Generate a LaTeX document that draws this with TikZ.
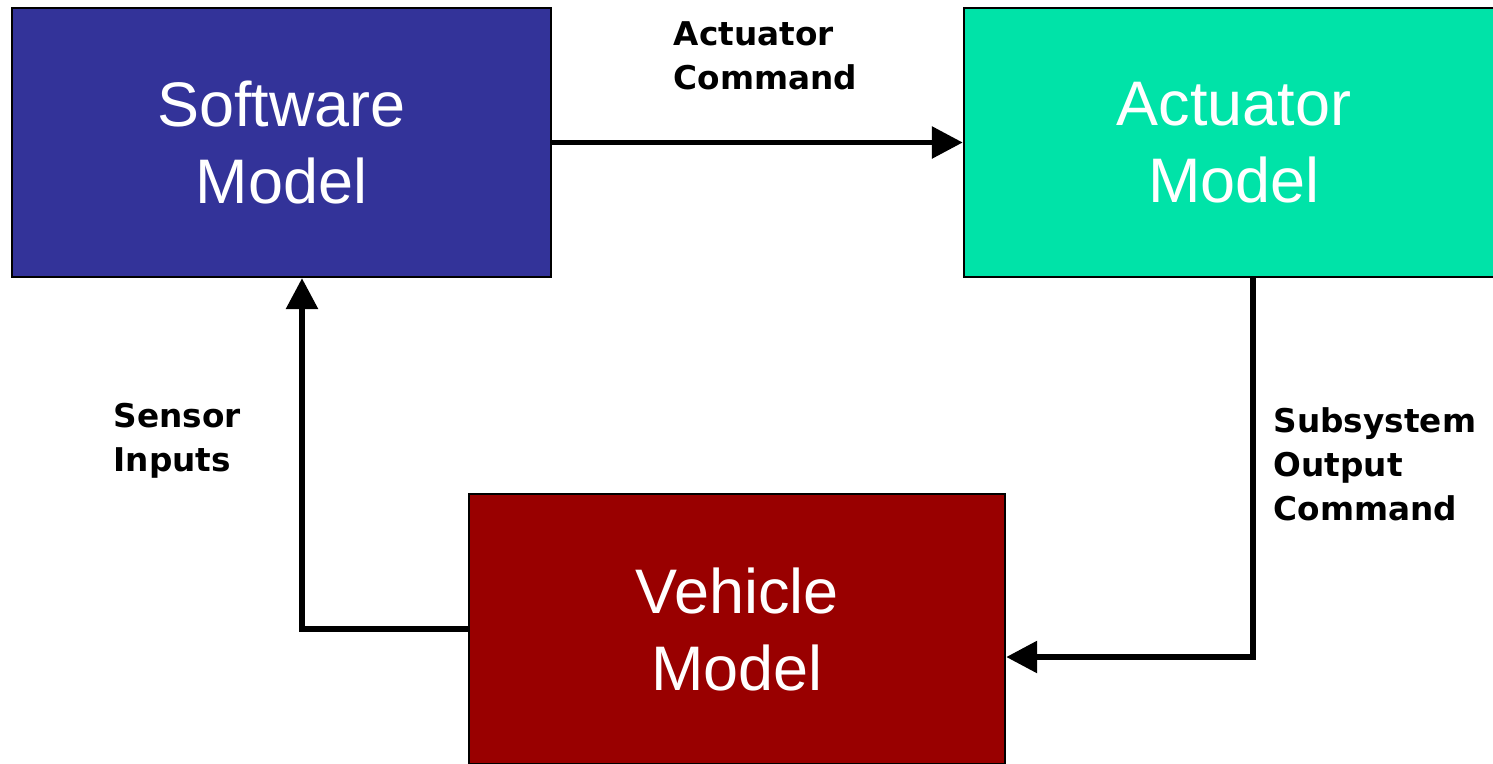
\documentclass[tikz,border=0pt]{standalone}
\usepackage{fontspec}
\setmainfont{Liberation Sans}
\newfontfamily\labelfont{DejaVu Sans}
\usetikzlibrary{arrows.meta,positioning}
\definecolor{swblue}{HTML}{333399}
\definecolor{actgreen}{HTML}{00E3A8}
\definecolor{vehred}{HTML}{990000}

\begin{document}
\begin{tikzpicture}[x=0.01cm,y=-0.01cm,
    block/.style={draw,line width=0.6pt,minimum width=5.39cm,minimum height=2.69cm,
      align=center,text=white,inner sep=0pt,font=\fontsize{17.9}{21.9}\selectfont},
    signal/.style={line width=1.7pt,-{Triangle[length=3.1mm,width=3.1mm]}},
    sigtext/.style={align=left,inner sep=0pt,anchor=north west,
      font=\labelfont\bfseries\fontsize{9.3}{12.5}\selectfont}]
  \useasboundingbox (0,0) rectangle (1493,763);
  \clip (0,0) rectangle (1493,763);
  % blocks
  \node[block,fill=swblue] (sw) at (281.5,142.5) {Software\\Model};
  \node[block,fill=actgreen,minimum width=5.4cm] (act) at (1234,142.5) {Actuator\\Model};
  \node[block,fill=vehred,minimum width=5.36cm,minimum height=2.7cm] (veh) at (737,629) {Vehicle\\Model};
  % bends of the loop
  \coordinate (outbend) at (1253,657);
  \coordinate (inbend) at (302,629);
  % signals
  \draw[signal] (sw.east) -- (act.west);
  \draw[signal,line join=miter] (act.south -| outbend) -- (outbend) -- (veh.east |- outbend);
  \draw[signal,line join=miter] (veh.west) -- (inbend) -- (sw.south -| inbend);
  % signal names
  \node[sigtext] (cmdlbl) at (673,21) {Actuator\\Command};
  \node[sigtext] (senslbl) at (113,403) {Sensor\\Inputs};
  \node[sigtext] (outlbl) at (1273,407) {Subsystem\\Output\\Command};
\end{tikzpicture}
\end{document}
